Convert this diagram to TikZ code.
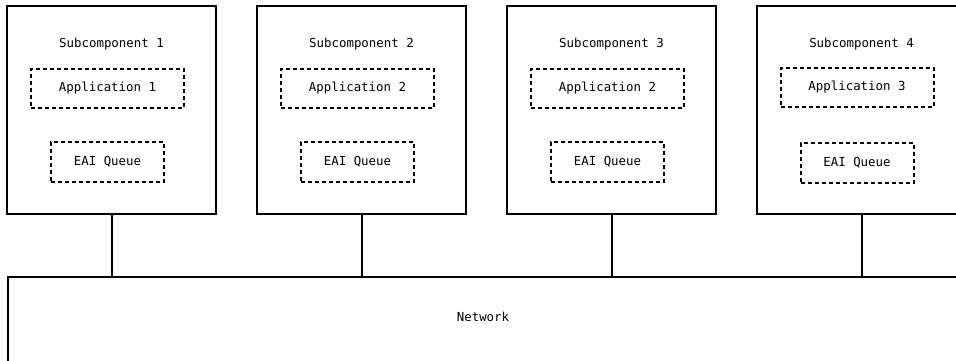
\documentclass[tikz,border=0pt]{standalone}
\usepackage{fontspec}
\setmonofont{DejaVu Sans Mono}
\usetikzlibrary{positioning}

\tikzset{
  subbox/.style={draw, line width=2pt, minimum width=209pt, minimum height=208pt, inner sep=0pt},
  appbox/.style={draw, line width=2pt, dash pattern=on 4pt off 3pt, minimum width=153pt, minimum height=39pt, inner sep=0pt},
  queuebox/.style={draw, line width=2pt, dash pattern=on 4pt off 3pt, minimum width=113pt, minimum height=40pt, inner sep=0pt},
  label/.style={font=\ttfamily\fontsize{12.4}{14}\selectfont, inner sep=0pt},
  link/.style={line width=2pt}
}

\begin{document}
\begin{tikzpicture}[x=1pt, y=-1pt]
            \useasboundingbox (0,0) rectangle (956,360);
            \clip (0,0) rectangle (956,360);

            \node[subbox] (s1) at (111.5, 110) {};
            \node[subbox] (s2) at (361.5, 110) {};
            \node[subbox] (s3) at (611.5, 110) {};
            \node[subbox] (s4) at (861.5, 110) {};

            \node[label] (t1) at (111.5, 44) {Subcomponent 1};
            \node[label] (t2) at (361.5, 44) {Subcomponent 2};
            \node[label] (t3) at (611.5, 44) {Subcomponent 3};
            \node[label] (t4) at (861.5, 44) {Subcomponent 4};

            \node[appbox, label] (a1) at (107.5, 88.5) {Application 1};
            \node[appbox, label] (a2) at (357.5, 88.5) {Application 2};
            \node[appbox, label] (a3) at (607.5, 88.5) {Application 2};
            \node[appbox, label] (a4) at (857, 87) {Application 3};

            \node[queuebox, label] (q1) at (107.5, 162) {EAI Queue};
            \node[queuebox, label] (q2) at (357.5, 162) {EAI Queue};
            \node[queuebox, label] (q3) at (607.5, 162) {EAI Queue};
            \node[queuebox, label] (q4) at (857, 162.5) {EAI Queue};

            \node[draw, line width=2pt, minimum width=950pt, minimum height=100pt, inner sep=0pt] (net) at (483, 327) {};
            \node[label] (nt) at (483, 317) {Network};

            \draw[link] (s1.south) to (s1.south |- net.north);
            \draw[link] (s2.south) to (s2.south |- net.north);
            \draw[link] (s3.south) to (s3.south |- net.north);
            \draw[link] (s4.south) to (s4.south |- net.north);
        \end{tikzpicture}
\end{document}
